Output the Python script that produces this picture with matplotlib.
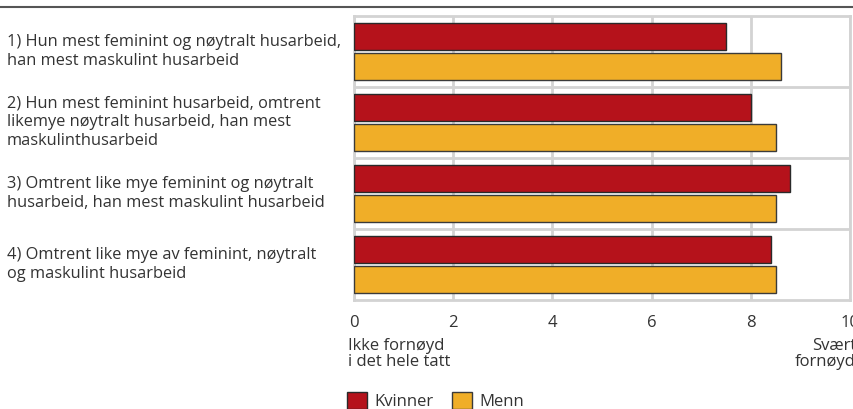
import numpy as np
import matplotlib.pyplot as plt
from matplotlib.patches import Patch
from matplotlib.lines import Line2D
from matplotlib.transforms import blended_transform_factory

plt.rcParams['font.family'] = ['Open Sans', 'DejaVu Sans']

# data
kategorier = [
    '1) Hun mest feminint og nøytralt husarbeid,\nhan mest maskulint husarbeid',
    '2) Hun mest feminint husarbeid, omtrent\nlikemye nøytralt husarbeid, han mest\nmaskulinthusarbeid',
    '3) Omtrent like mye feminint og nøytralt\nhusarbeid, han mest maskulint husarbeid',
    '4) Omtrent like mye av feminint, nøytralt\nog maskulint husarbeid',
]
kvinner = [7.5, 8.0, 8.8, 8.4]
menn = [8.6, 8.5, 8.5, 8.5]
x_ticks = [0, 2, 4, 6, 8, 10]

rod = '#B5121B'
gul = '#F0AE28'
grid_col = '#D3D3D3'
tekst = '#333333'

W, H = 854, 409
fig = plt.figure(figsize=(W / 100, H / 100), dpi=100)
ax = fig.add_axes([354 / W, 1 - 300 / H, (850 - 354) / W, (300 - 16) / H])

y = np.arange(len(kategorier))
ax.barh(y - 0.205, kvinner, height=0.38, color=rod, edgecolor='#2a2a2a', linewidth=1, zorder=3)
ax.barh(y + 0.205, menn, height=0.38, color=gul, edgecolor='#3a3a3a', linewidth=1, zorder=3)

ax.set_xlim(0, 10)
ax.set_ylim(3.5, -0.5)
ax.set_xticks(x_ticks)
ax.set_xticklabels([str(t) for t in x_ticks], fontsize=12, color=tekst)
ax.tick_params(axis='x', length=0, pad=11)
ax.set_yticks([])
ax.grid(axis='x', color=grid_col, linewidth=2, zorder=0)
for sep in [0.5, 1.5, 2.5]:
    ax.axhline(sep, color=grid_col, linewidth=2, zorder=1)
for s in ax.spines.values():
    s.set_color(grid_col)
    s.set_linewidth(2)

# category labels to the left of the axes
trans = blended_transform_factory(fig.transFigure, ax.transData)
for i, lab in enumerate(kategorier):
    ax.text(7 / W, i, lab, transform=trans, ha='left', va='center',
            fontsize=11.8, color=tekst, linespacing=1.22)

fig.text(348 / W, 1 - 354 / H, 'Ikke fornøyd\ni det hele tatt', ha='left', va='center',
         fontsize=12, color=tekst, linespacing=1.0)
fig.text(856 / W, 1 - 354 / H, 'Svært\nfornøyd', ha='right', va='center',
         fontsize=12, color=tekst, linespacing=1.0)

# dark rule at the top
fig.add_artist(Line2D([0, 1], [1 - 7 / H, 1 - 7 / H], transform=fig.transFigure,
                      color='#555555', linewidth=1.5))

handles = [Patch(facecolor=rod, edgecolor='#2a2a2a', label='Kvinner'),
           Patch(facecolor=gul, edgecolor='#3a3a3a', label='Menn')]
fig.legend(handles=handles, loc='upper left', bbox_to_anchor=(332 / W, 1 - 377 / H), ncol=2,
           frameon=False, fontsize=12, handlelength=1.2, handleheight=1.2,
           handletextpad=0.45, columnspacing=1.1, labelcolor=tekst)

fig.savefig('out.png', dpi=100)
